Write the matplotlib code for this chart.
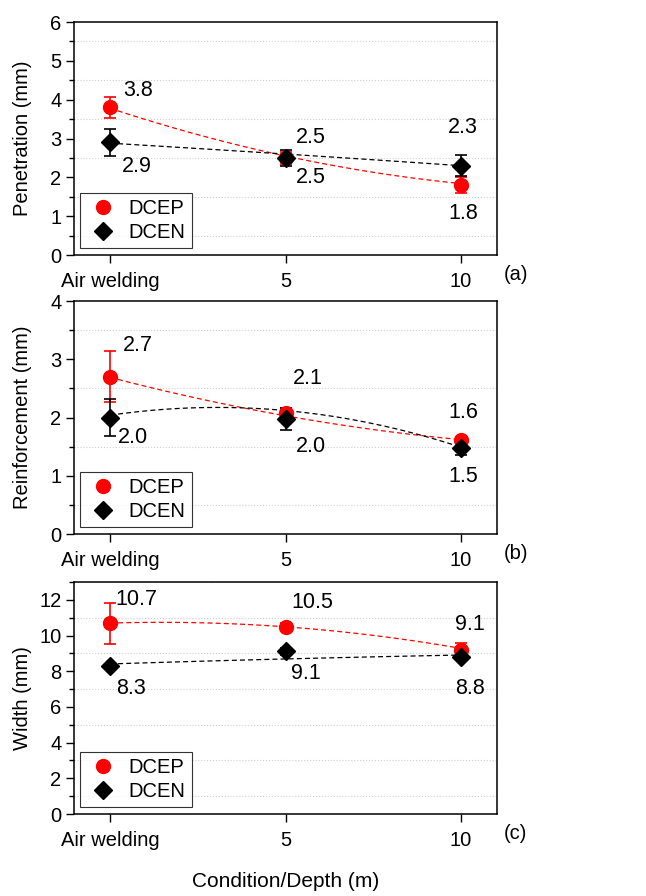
import numpy as np
import matplotlib
matplotlib.use("Agg")
import matplotlib.pyplot as plt
from matplotlib.ticker import MultipleLocator

plt.rcParams['font.family'] = ['Liberation Sans', 'DejaVu Sans']

# x categories
x_labels = ['Air welding', '5', '10']
x_pos = [0, 1, 2]

# (a) Penetration
pen_dcep = [3.8, 2.5, 1.8]
pen_dcep_err = [0.28, 0.15, 0.2]
pen_dcen = [2.9, 2.5, 2.3]
pen_dcen_err = [0.35, 0.2, 0.27]
pen_dcep_fit = [3.78, 2.55, 1.84]
pen_dcen_fit = [2.88, 2.6, 2.3]
pen_text_dcep = ['3.8', '2.5', '2.3']
pen_text_dcen = ['2.9', '2.5', '1.8']

# (b) Reinforcement
rei_dcep = [2.7, 2.07, 1.62]
rei_dcep_err = [0.44, 0.1, 0.05]
rei_dcen = [2.0, 1.97, 1.48]
rei_dcen_err = [0.32, 0.19, 0.12]
rei_dcep_fit = [2.69, 2.03, 1.62]
rei_dcen_fit = [2.04, 2.12, 1.49]
rei_text_dcep = ['2.7', '2.1', '1.6']
rei_text_dcen = ['2.0', '2.0', '1.5']

# (c) Width
wid_dcep = [10.7, 10.5, 9.19]
wid_dcep_err = [1.15, 0.2, 0.4]
wid_dcen = [8.3, 9.12, 8.78]
wid_dcen_err = [0.1, 0.2, 0.15]
wid_dcep_fit = [10.7, 10.49, 9.28]
wid_dcen_fit = [8.41, 8.69, 8.91]
wid_text_dcep = ['10.7', '10.5', '9.1']
wid_text_dcen = ['8.3', '9.1', '8.8']

# label offsets in pixels (dx, dy), dy positive = upward
panels = [
    dict(rect=[0.1146, 0.7154, 0.6548, 0.2600], ylim=(0, 6), major=1, minor=0.5,
         ylabel='Penetration (mm)', tag='(a)',
         dcep=pen_dcep, dcep_err=pen_dcep_err, dcen=pen_dcen, dcen_err=pen_dcen_err,
         dcep_fit=pen_dcep_fit, dcen_fit=pen_dcen_fit,
         t_up=pen_text_dcep, t_dn=pen_text_dcen,
         off_up=[(28, 17), (25, 20), (2, 38)], off_dn=[(27, -24), (25, -20), (2, -28)],
         up_ref=[pen_dcep[0], pen_dcep[1], pen_dcen[2]],
         dn_ref=[pen_dcen[0], pen_dcen[1], pen_dcep[2]]),
    dict(rect=[0.1146, 0.4040, 0.6548, 0.2600], ylim=(0, 4), major=1, minor=0.5,
         ylabel='Reinforcement (mm)', tag='(b)',
         dcep=rei_dcep, dcep_err=rei_dcep_err, dcen=rei_dcen, dcen_err=rei_dcen_err,
         dcep_fit=rei_dcep_fit, dcen_fit=rei_dcen_fit,
         t_up=rei_text_dcep, t_dn=rei_text_dcen,
         off_up=[(28, 31), (22, 35), (2, 27)], off_dn=[(23, -20), (25, -27), (2, -29)],
         up_ref=rei_dcep, dn_ref=rei_dcen),
    dict(rect=[0.1146, 0.0915, 0.6548, 0.2589], ylim=(0, 13), major=2, minor=1,
         ylabel='Width (mm)', tag='(c)',
         dcep=wid_dcep, dcep_err=wid_dcep_err, dcen=wid_dcen, dcen_err=wid_dcen_err,
         dcep_fit=wid_dcep_fit, dcen_fit=wid_dcen_fit,
         t_up=wid_text_dcep, t_dn=wid_text_dcen,
         off_up=[(26, 24), (27, 24), (9, 26)], off_dn=[(21, -23), (20, -22), (9, -31)],
         up_ref=wid_dcep, dn_ref=wid_dcen),
]

fig = plt.figure(figsize=(6.46, 8.96), dpi=100)
xs = np.linspace(0, 2, 100)
fs = 14.5

for p in panels:
    ax = fig.add_axes(p['rect'])
    ax.set_xlim(-0.205, 2.205)
    ax.set_ylim(*p['ylim'])

    # dashed trend curves
    for fit, col in [(p['dcep_fit'], 'red'), (p['dcen_fit'], 'black')]:
        c = np.polyfit(x_pos, fit, 2)
        ax.plot(xs, np.polyval(c, xs), ls='--', color=col, lw=0.9, dashes=(4, 2.5), zorder=2)

    ax.errorbar(x_pos, p['dcep'], yerr=p['dcep_err'], fmt='none', ecolor='red',
                elinewidth=1.2, capsize=4.5, capthick=1.2, zorder=3)
    ax.errorbar(x_pos, p['dcen'], yerr=p['dcen_err'], fmt='none', ecolor='black',
                elinewidth=1.2, capsize=4.5, capthick=1.2, zorder=3)
    ax.plot(x_pos, p['dcep'], 'o', color='red', ms=10, ls='none', label='DCEP', zorder=4)
    ax.plot(x_pos, p['dcen'], 'D', color='black', ms=9, ls='none', label='DCEN', zorder=5)

    for i in range(3):
        ax.annotate(p['t_up'][i], (x_pos[i], p['up_ref'][i]), xytext=p['off_up'][i],
                    textcoords='offset pixels', ha='center', va='center', fontsize=fs + 1)
        ax.annotate(p['t_dn'][i], (x_pos[i], p['dn_ref'][i]), xytext=p['off_dn'][i],
                    textcoords='offset pixels', ha='center', va='center', fontsize=fs + 1)

    ax.yaxis.set_major_locator(MultipleLocator(p['major']))
    ax.yaxis.set_minor_locator(MultipleLocator(p['minor']))
    ax.set_xticks(x_pos)
    ax.set_xticklabels(x_labels)
    ax.tick_params(axis='both', which='major', direction='out', length=6, width=1,
                   labelsize=fs, pad=3)
    ax.tick_params(axis='x', which='major', pad=6)
    ax.tick_params(axis='y', which='minor', direction='out', length=3.5, width=1)
    ax.tick_params(axis='x', which='minor', bottom=False)
    ax.grid(axis='y', which='minor', ls=':', color='#d0d0d0', lw=0.8)
    ax.grid(axis='y', which='major', visible=False)
    ax.set_axisbelow(True)
    for s in ax.spines.values():
        s.set_linewidth(1.1)

    ax.set_ylabel(p['ylabel'], fontsize=fs)
    ax.yaxis.set_label_coords(-0.10, 0.5)
    ax.text(1.015, -0.085, p['tag'], transform=ax.transAxes, fontsize=fs,
            ha='left', va='center')

    leg = ax.legend(loc='lower left', bbox_to_anchor=(0.015, 0.03), borderaxespad=0,
                    fontsize=fs, frameon=True, fancybox=False, edgecolor='black',
                    handletextpad=0.5, borderpad=0.3, labelspacing=0.25,
                    handlelength=1.6)
    leg.get_frame().set_linewidth(0.8)

fig.text(0.5 * (0.1146 * 2 + 0.6548), 0.016, 'Condition/Depth (m)', ha='center',
         va='center', fontsize=fs + 0.5)

fig.savefig('out.png', dpi=100)
